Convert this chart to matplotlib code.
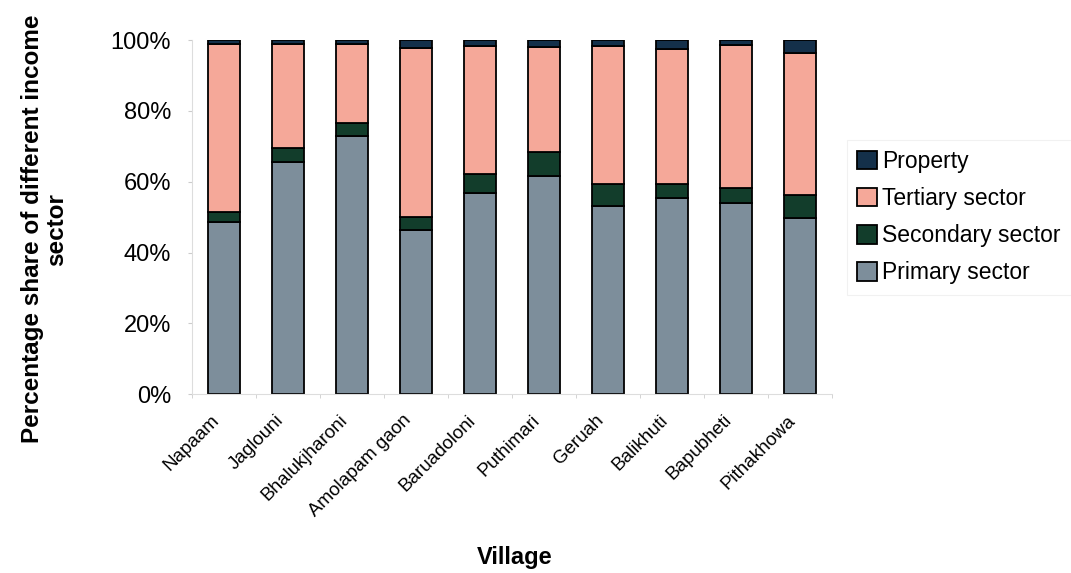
import numpy as np
import matplotlib
matplotlib.use("Agg")
import matplotlib.pyplot as plt
from matplotlib.ticker import PercentFormatter
from matplotlib.transforms import ScaledTranslation

plt.rcParams['font.family'] = ['Liberation Sans', 'DejaVu Sans']

villages = ['Napaam', 'Jaglouni', 'Bhalukjharoni', 'Amolapam gaon', 'Baruadoloni',
            'Puthimari', 'Geruah', 'Balikhuti', 'Bapubheti', 'Pithakhowa']
primary = [48.7, 65.6, 72.9, 46.5, 56.7, 61.7, 53.1, 55.3, 54.0, 49.8]
secondary = [2.8, 3.8, 3.7, 3.6, 5.6, 6.7, 6.2, 4.0, 4.1, 6.4]
tertiary = [47.4, 29.5, 22.3, 47.8, 36.1, 29.7, 39.1, 38.3, 40.5, 40.2]
property_ = [1.1, 1.1, 1.1, 2.1, 1.6, 1.9, 1.6, 2.4, 1.4, 3.6]

series = [('Primary sector', primary, '#7d8e9b'),
          ('Secondary sector', secondary, '#123d2b'),
          ('Tertiary sector', tertiary, '#f5a899'),
          ('Property', property_, '#14304a')]

fig = plt.figure(figsize=(10.71, 5.73), dpi=100)
ax = fig.add_axes([0.179, 0.312, 0.598, 0.618])

x = np.arange(len(villages))
bottom = np.zeros(len(villages))
handles = []
for name, vals, color in series:
    b = ax.bar(x, vals, width=0.5, bottom=bottom, color=color,
               edgecolor='black', linewidth=1.3, label=name)
    handles.append(b)
    bottom += np.array(vals)

ax.set_xlim(-0.5, len(villages) - 0.5)
ax.set_ylim(0, 100)
ax.set_yticks(range(0, 101, 20))
ax.yaxis.set_major_formatter(PercentFormatter(decimals=0))
ax.tick_params(axis='y', labelsize=17, length=3, color='#cccccc', pad=12)
ax.set_xticks(x)
ax.set_xticklabels(villages, rotation=45, ha='right', va='center',
                   rotation_mode='anchor', fontsize=13.5)
ax.tick_params(axis='x', which='major', length=0, pad=17)
ax.set_xticks(np.arange(-0.5, len(villages), 1.0), minor=True)
ax.tick_params(axis='x', which='minor', length=3, color='#cccccc')
shift = ScaledTranslation(-7 / 100, 0, fig.dpi_scale_trans)
for lbl in ax.get_xticklabels():
    lbl.set_transform(lbl.get_transform() + shift)

for side in ['top', 'right']:
    ax.spines[side].set_visible(False)
for side in ['left', 'bottom']:
    ax.spines[side].set_color('#dddddd')
    ax.spines[side].set_linewidth(0.8)

ax.set_ylabel('Percentage share of different income\nsector', fontsize=17.5,
              fontweight='bold', linespacing=1.05)
ax.yaxis.set_label_coords(-0.193, 0.466)
ax.set_xlabel('Village', fontsize=17, fontweight='bold')
ax.xaxis.set_label_coords(0.505, -0.43)

leg = ax.legend(handles[::-1], [s[0] for s in series][::-1],
                loc='center left', bbox_to_anchor=(1.023, 0.5),
                borderaxespad=0,
                fontsize=16.5, frameon=True, handlelength=0.87, handleheight=0.87,
                handletextpad=0.2, labelspacing=0.62, borderpad=0.45, fancybox=False)
leg.get_frame().set_edgecolor('#eeeeee')
leg.get_frame().set_linewidth(0.8)

fig.savefig('out.png', dpi=100)
